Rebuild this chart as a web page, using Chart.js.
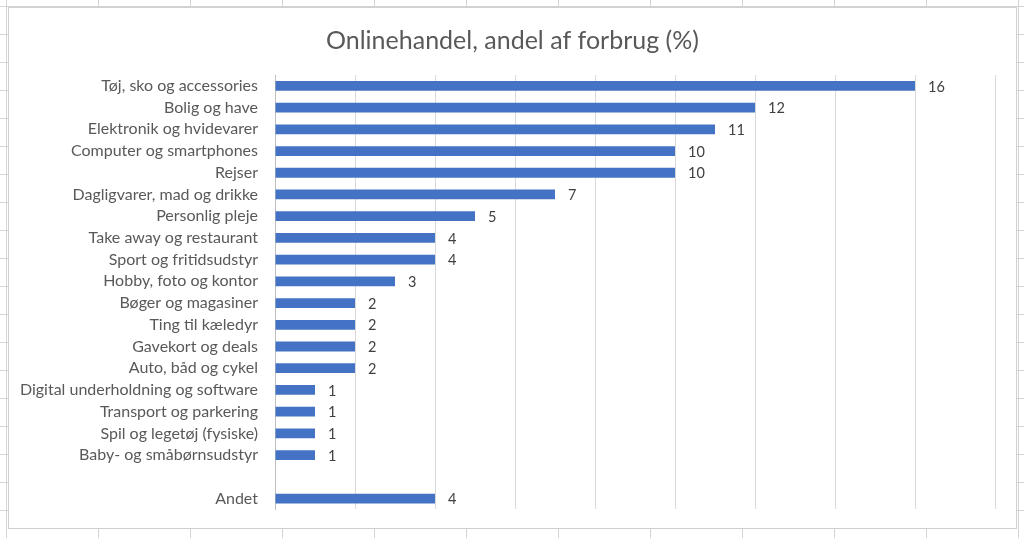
<!DOCTYPE html>
<html>
<head>
<meta charset="utf-8">
<script src="https://cdn.jsdelivr.net/npm/chart.js@4"></script>
<style>
  html, body { margin: 0; padding: 0; }
  body {
    width: 1024px; height: 538px; overflow: hidden; position: relative;
    background-color: #fff;
    background-image:
      linear-gradient(to right, #d4d4d4 1px, transparent 1px),
      linear-gradient(to bottom, #d4d4d4 1px, transparent 1px);
    background-size: 92px 28px;
    background-position: 6px 6px;
  }
  #caja {
    position: absolute; left: 8px; top: 7px; width: 1009px; height: 522px;
    background: #fff; border: 1px solid #d0d0d0; box-sizing: border-box;
  }
  #grafico { display: block; }
</style>
</head>
<body>
<div id="caja"><canvas id="grafico" width="1007" height="520"></canvas></div>
<script>
// kategorier og værdier (%)
const kategorier = [
  "Tøj, sko og accessories", "Bolig og have", "Elektronik og hvidevarer",
  "Computer og smartphones", "Rejser", "Dagligvarer, mad og drikke",
  "Personlig pleje", "Take away og restaurant", "Sport og fritidsudstyr",
  "Hobby, foto og kontor", "Bøger og magasiner", "Ting til kæledyr",
  "Gavekort og deals", "Auto, båd og cykel", "Digital underholdning og software",
  "Transport og parkering", "Spil og legetøj (fysiske)", "Baby- og småbørnsudstyr",
  "", "Andet"
];
const andele = [16, 12, 11, 10, 10, 7, 5, 4, 4, 3, 2, 2, 2, 2, 1, 1, 1, 1, null, 4];
const titel = "Onlinehandel, andel af forbrug (%)";

// titel centreret over hele diagramfladen //
const overskrift = {
  id: "overskrift",
  afterDraw(chart) {
    const ctx = chart.ctx;
    ctx.save();
    ctx.font = "25px Lato";
    ctx.fillStyle = "#595959";
    ctx.textAlign = "center";
    ctx.textBaseline = "middle";
    ctx.fillText(titel, chart.width / 2, 33);
    ctx.restore();
  }
};

// etiketter til højre for søjlerne //
const etiketter = {
  id: "etiketter",
  afterDatasetsDraw(chart) {
    const ctx = chart.ctx;
    const meta = chart.getDatasetMeta(0);
    ctx.save();
    ctx.font = "14.5px Lato";
    ctx.fillStyle = "#404040";
    ctx.textBaseline = "middle";
    meta.data.forEach((bar, i) => {
      if (andele[i] == null) return;
      ctx.fillText(String(andele[i]), bar.x + 13, bar.y + 1);
    });
    ctx.restore();
  }
};

new Chart(document.getElementById("grafico"), {
  type: "bar",
  data: {
    labels: kategorier,
    datasets: [{
      data: andele,
      backgroundColor: "#4472C4",
      barPercentage: 0.9,
      categoryPercentage: 0.5
    }]
  },
  options: {
    indexAxis: "y",
    responsive: false,
    animation: false,
    layout: { padding: { left: 0, right: 21, top: 67, bottom: 7 } },
    plugins: {
      legend: { display: false },
      tooltip: { enabled: false },
      title: { display: false }
    },
    scales: {
      x: {
        min: 0, max: 18,
        ticks: { display: false, stepSize: 2 },
        grid: { color: "#d9d9d9", drawTicks: false, tickLength: 0 },
        border: { display: false }
      },
      y: {
        afterFit: (scale) => { scale.width = 266; },
        ticks: {
          color: "#595959",
          font: { family: "Lato", size: 16 },
          padding: 9,
          autoSkip: false
        },
        grid: { display: false },
        border: { color: "#bfbfbf" }
      }
    }
  },
  plugins: [etiketter, overskrift]
});
</script>
</body>
</html>
